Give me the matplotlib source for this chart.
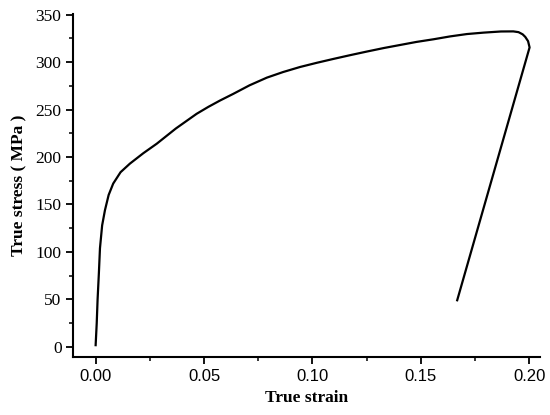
import matplotlib.pyplot as plt
from matplotlib.ticker import MultipleLocator, FormatStrFormatter

plt.rcParams['font.family'] = ['Liberation Sans', 'DejaVu Sans']

# loading curve then unloading
strain = [0.0, 0.0005, 0.0009, 0.0015, 0.0020, 0.0030, 0.0043, 0.0060, 0.0081,
          0.0115, 0.0158, 0.0220, 0.0282, 0.0370, 0.0466, 0.0520, 0.0574, 0.0635,
          0.0710, 0.0790, 0.0865, 0.0943, 0.1020, 0.1097, 0.1175, 0.1250,
          0.1330, 0.1405, 0.1480, 0.1559, 0.1635, 0.1713, 0.1790, 0.1870,
          0.1927, 0.1951, 0.1970, 0.1982, 0.1995, 0.2002, 0.1668]
stress = [1.8, 25, 50, 78, 104, 128, 144, 160, 172,
          184, 193, 204, 214, 230, 245.5, 252.8, 259.5, 266.5,
          275.5, 283.6, 289.5, 294.8, 299.2, 303.3, 307.3, 311,
          314.8, 318, 321.2, 324, 327, 329.5, 331, 332.2,
          332.3, 331.5, 329.2, 326.5, 322, 315.4, 49.1]

fig = plt.figure(figsize=(5.5, 4.15), dpi=100)
ax = fig.add_axes([0.1333, 0.139, 0.8485, 0.827])
ax.plot(strain, stress, color='black', lw=1.6)

ax.set_xlim(-0.0103, 0.205)
ax.set_ylim(-11, 350.5)
ax.spines['top'].set_visible(False)
ax.spines['right'].set_visible(False)
for s in ['left', 'bottom']:
    ax.spines[s].set_linewidth(1.5)

ax.xaxis.set_major_locator(MultipleLocator(0.05))
ax.xaxis.set_minor_locator(MultipleLocator(0.025))
ax.xaxis.set_major_formatter(FormatStrFormatter('%.2f'))
ax.yaxis.set_major_locator(MultipleLocator(50))
ax.yaxis.set_minor_locator(MultipleLocator(25))
ax.tick_params(which='major', length=5, width=1.3)
ax.tick_params(which='minor', length=3, width=1.1)
ax.tick_params(axis='x', labelsize=12)
ax.tick_params(axis='y', labelfontfamily='Liberation Serif', labelsize=12.5)

ax.set_xlabel('True strain', fontfamily='Liberation Serif', fontweight='bold',
              fontsize=12.5, labelpad=4)
ax.set_ylabel('True stress ( MPa )', fontfamily='Liberation Serif',
              fontweight='bold', fontsize=12.5, labelpad=6)

fig.savefig('out.png', dpi=100)
